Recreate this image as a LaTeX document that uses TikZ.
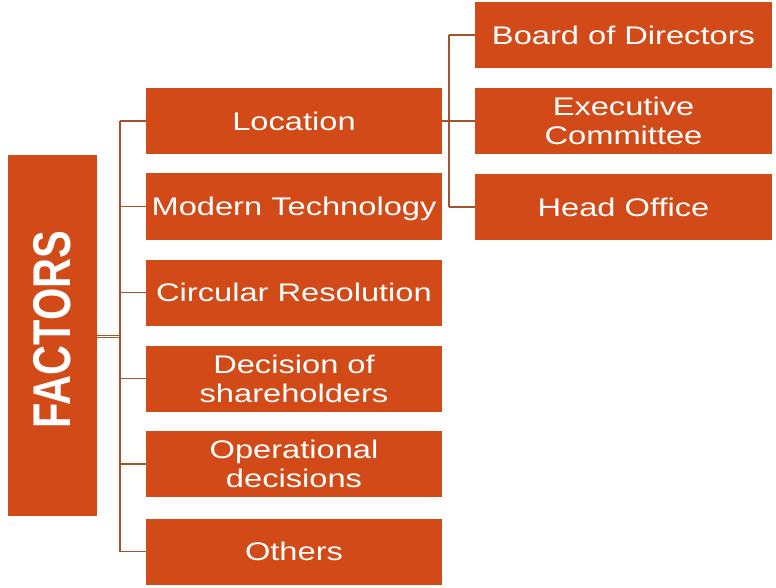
\documentclass[tikz,border=0pt]{standalone}
\usepackage{fontspec}
\setmainfont{Liberation Sans}
\usepackage{graphicx}
\definecolor{boxfill}{HTML}{D24A17}
\definecolor{linec}{HTML}{A5522E}
\newcommand\sxt[1]{\raisebox{-3.5pt}[\height][\depth]{\scalebox{1.28}[1]{\begin{tabular}{@{}c@{}}#1\end{tabular}}}}
\begin{document}
\begin{tikzpicture}[x=1pt,y=-1pt,
  box/.style={fill=boxfill,text=white,inner sep=0pt,minimum width=296pt,minimum height=66pt,font=\fontsize{25.5}{29}\selectfont},
  conn/.style={draw=linec,line width=1.4pt},
  dconn/.style={draw=linec,line width=0.9pt,double=white,double distance=1.4pt}]
\useasboundingbox (0,0) rectangle (776,588);
\fill[white] (0,0) rectangle (776,588);
% main box
\node[fill=boxfill,text=white,inner sep=0pt,minimum width=89pt,minimum height=361pt] (fac) at (52.5,335.5)
  {\rotatebox{90}{\scalebox{1}[1.28]{\fontsize{41.5}{44}\selectfont\bfseries\hspace*{12pt}FACTORS}}};
% level 1
\node[box] (loc) at (294,121) {\sxt{Location}};
\node[box] (mod) at (294,206.5) {\sxt{Modern Technology}};
\node[box] (cir) at (294,292.5) {\sxt{Circular Resolution}};
\node[box] (dec) at (294,378.5) {\sxt{Decision of\\shareholders}};
\node[box] (ope) at (294,464) {\sxt{Operational\\decisions}};
\node[box] (oth) at (294,551.5) {\sxt{Others}};
% level 2
\node[box,minimum width=297pt] (bod) at (623.5,35) {\sxt{Board of Directors}};
\node[box,minimum width=297pt] (exe) at (623.5,121) {\sxt{Executive\\Committee}};
\node[box,minimum width=297pt] (hof) at (623.5,207) {\sxt{Head Office}};
% connectors left
\coordinate (lt) at (120,336.5);
\coordinate (rt) at (449,0);
\draw[dconn] (fac.east |- lt) -- (lt);
\draw[conn] (lt |- loc.west) -- (lt |- oth.west);
\foreach \n in {loc,mod,cir,dec,ope,oth}{
  \draw[conn] (lt |- \n.west) -- (\n.west);
}
% connectors right
\draw[conn] (rt |- bod.west) -- (rt |- hof.west);
\draw[conn] (loc.east) -- (exe.west);
\draw[conn] (rt |- bod.west) -- (bod.west);
\draw[conn] (rt |- hof.west) -- (hof.west);
\end{tikzpicture}
\end{document}
